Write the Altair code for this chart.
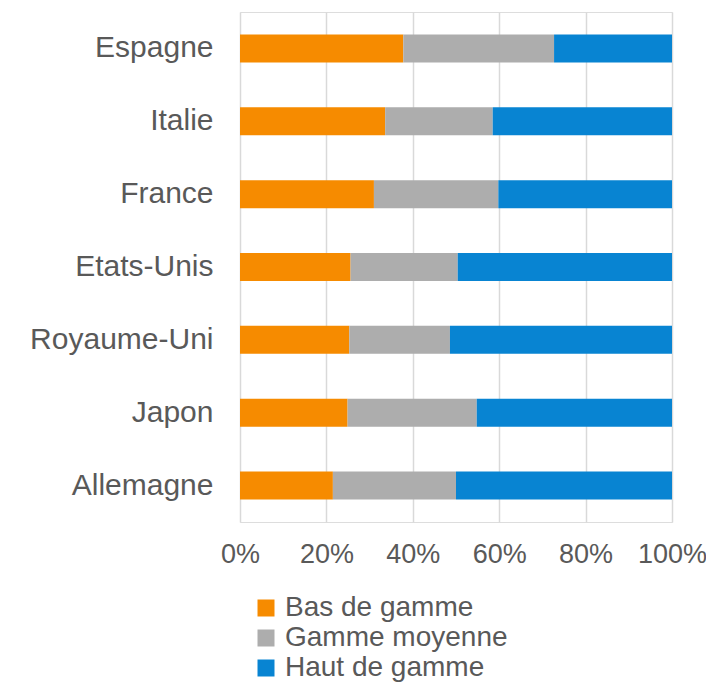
import altair as alt
import pandas as pd

countries = ["Espagne", "Italie", "France", "Etats-Unis", "Royaume-Uni", "Japon", "Allemagne"]
series = ["Bas de gamme", "Gamme moyenne", "Haut de gamme"]
bas = [37.8, 33.6, 31.0, 25.6, 25.3, 24.9, 21.5]
moyenne = [34.9, 24.9, 28.8, 24.8, 23.3, 29.9, 28.5]
haut = [27.3, 41.5, 40.2, 49.6, 51.4, 45.2, 50.0]
colors = ["#F68B00", "#ADADAD", "#0884D2"]

rows = []
for i, c in enumerate(countries):
    for k, (s, vals) in enumerate(zip(series, [bas, moyenne, haut])):
        rows.append({"pays": c, "gamme": s, "valeur": vals[i], "ordre": k})
df = pd.DataFrame(rows)

font = "Liberation Sans"
txt = "#595959"

chart = alt.Chart(df).mark_bar().encode(
    y=alt.Y("pays:N", sort=countries, title=None,
            scale=alt.Scale(paddingInner=0.616, paddingOuter=0.308),
            axis=alt.Axis(domain=False, ticks=False, labelFont=font, labelFontSize=30,
                          labelColor=txt, labelPadding=27, grid=False, labelLimit=300)),
    x=alt.X("valeur:Q", stack="normalize", title=None,
            scale=alt.Scale(domain=[0, 1], nice=False),
            axis=alt.Axis(format=".0%", values=[0, 0.2, 0.4, 0.6, 0.8, 1.0],
                          domain=False, ticks=False, labelFont=font, labelFontSize=27,
                          labelColor=txt, labelPadding=19, grid=True,
                          labelOverlap=False, labelFlush=False,
                          gridColor="#D9D9D9", gridWidth=1.5)),
    color=alt.Color("gamme:N", sort=series, title=None,
                    scale=alt.Scale(domain=series, range=colors),
                    legend=alt.Legend(orient="none", legendX=12, legendY=582,
                                      symbolType="square", symbolSize=289,
                                      symbolStrokeWidth=0, labelFont=font,
                                      labelFontSize=28, labelColor=txt,
                                      labelOffset=5, rowPadding=2, labelLimit=400)),
    order=alt.Order("ordre:Q"),
).properties(
    width=432, height=510,
    autosize=alt.AutoSizeParams(type="none"),
    padding={"left": 232, "top": 4, "right": 34, "bottom": 164},
).configure_view(strokeWidth=0, stroke="transparent").configure(background="white")

chart.save("out.html", embed_options={"renderer": "svg", "actions": False})
